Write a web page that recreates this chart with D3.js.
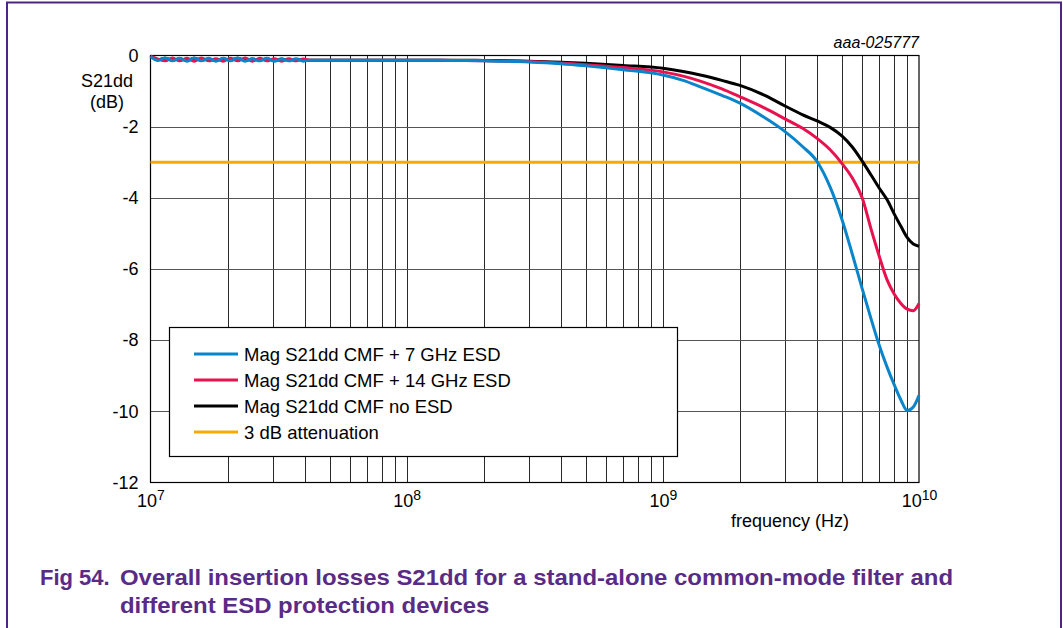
<!DOCTYPE html>
<html>
<head>
<meta charset="utf-8">
<script src="https://cdn.jsdelivr.net/npm/d3@7"></script>
<style>
  html, body { margin: 0; padding: 0; background: #fff; }
  svg { display: block; }
  text { font-family: "Liberation Sans", Arial, sans-serif; fill: #000; }
</style>
</head>
<body>
<svg id="chart" width="1063" height="628"></svg>
<script>
// Frequency sweep (Hz): fine steps in the noisy low band, coarser above 50 MHz
const freqHz = [
  1.0e7, 1.07e7, 1.14e7, 1.22e7, 1.3e7, 1.39e7, 1.48e7, 1.58e7, 1.69e7, 1.8e7,
  1.92e7, 2.05e7, 2.19e7, 2.34e7, 2.5e7, 2.67e7, 2.85e7, 3.04e7, 3.25e7, 3.47e7,
  3.7e7, 3.95e7, 4.2e7,
  5e7, 7e7, 1e8, 1.5e8, 2e8, 3e8, 4e8, 5e8, 7e8, 1e9,
  1.2e9, 1.4e9, 1.7e9, 2e9, 2.5e9, 3e9, 3.5e9, 4e9, 4.5e9, 5e9,
  5.5e9, 6e9, 6.5e9, 7e9, 7.5e9, 8e9, 8.5e9, 9e9, 9.5e9, 1e10
];

// Mag S21dd (dB), CMF + 7 GHz ESD
const esd7Db = [
  -0.03, -0.14, -0.07, -0.15, -0.08, -0.16, -0.07, -0.15, -0.08, -0.16,
  -0.08, -0.15, -0.07, -0.16, -0.09, -0.15, -0.08, -0.16, -0.10, -0.15,
  -0.09, -0.16, -0.13,
  -0.13, -0.13, -0.13, -0.14, -0.15, -0.18, -0.23, -0.29, -0.40, -0.55,
  -0.70, -0.88, -1.12, -1.34, -1.75, -2.14, -2.55, -2.98, -3.70, -4.60,
  -5.60, -6.55, -7.40, -8.15, -8.75, -9.25, -9.68, -9.98, -9.88, -9.55
];

// Mag S21dd (dB), CMF + 14 GHz ESD
const esd14Db = [
  -0.02, -0.10, -0.15, -0.07, -0.15, -0.08, -0.16, -0.07, -0.15, -0.09,
  -0.16, -0.08, -0.15, -0.07, -0.16, -0.08, -0.15, -0.09, -0.16, -0.09,
  -0.15, -0.10, -0.13,
  -0.13, -0.13, -0.13, -0.14, -0.15, -0.17, -0.21, -0.26, -0.34, -0.46,
  -0.58, -0.72, -0.94, -1.16, -1.48, -1.78, -2.04, -2.33, -2.65, -3.03,
  -3.45, -4.00, -4.88, -5.65, -6.30, -6.70, -6.97, -7.13, -7.17, -6.97
];

// Mag S21dd (dB), CMF without ESD
const noEsdDb = [
  -0.01, -0.12, -0.08, -0.13, -0.09, -0.14, -0.08, -0.13, -0.10, -0.14,
  -0.09, -0.13, -0.08, -0.14, -0.10, -0.13, -0.09, -0.14, -0.10, -0.13,
  -0.11, -0.13, -0.13,
  -0.13, -0.13, -0.13, -0.13, -0.14, -0.16, -0.19, -0.22, -0.28, -0.36,
  -0.45, -0.55, -0.70, -0.84, -1.12, -1.42, -1.66, -1.84, -2.02, -2.26,
  -2.58, -2.97, -3.36, -3.73, -4.05, -4.45, -4.80, -5.12, -5.30, -5.36
];

const attenuationDb = -3;

const seriesNames = [
  "Mag S21dd CMF + 7 GHz ESD",
  "Mag S21dd CMF + 14 GHz ESD",
  "Mag S21dd CMF no ESD",
  "3 dB attenuation"
];
const seriesColors = ["#0a85c9", "#e8124f", "#000000", "#f6ab00"];

const yTicks = [0, -2, -4, -6, -8, -10, -12];
const xDecades = [1e7, 1e8, 1e9, 1e10];
const xExponents = ["7", "8", "9", "10"];

const captionNumber = "Fig 54.";
const captionLines = [
  "Overall insertion losses S21dd for a stand-alone common-mode filter and",
  "different ESD protection devices"
];
const figureCode = "aaa-025777";

// ---- layout ----
const svg = d3.select("#chart");
const plot = { left: 150.5, right: 919, top: 55.5, bottom: 482.5 };

const x = d3.scaleLog().domain([1e7, 1e10]).range([plot.left, plot.right]);
const y = d3.scaleLinear().domain([-12, 0]).range([plot.bottom, plot.top]);

// outer figure frame
svg.append("path")
  .attr("d", "M7,628 V2.5 H1061 V628")
  .attr("fill", "none")
  .attr("stroke", "#4e2682")
  .attr("stroke-width", 2);

// ---- grid ----
const grid = svg.append("g");
const minorTicks = x.ticks(30).filter(v => v > 1e7 && v < 1e10);
grid.selectAll("line.v")
  .data(minorTicks)
  .join("line")
  .attr("x1", d => Math.round(x(d)) + 0.5)
  .attr("x2", d => Math.round(x(d)) + 0.5)
  .attr("y1", plot.top)
  .attr("y2", plot.bottom)
  .attr("stroke", "#2a2a2a")
  .attr("stroke-width", 1);

grid.selectAll("line.h")
  .data(yTicks.filter(v => v !== 0 && v !== -12))
  .join("line")
  .attr("x1", plot.left)
  .attr("x2", plot.right)
  .attr("y1", d => Math.round(y(d)) + 0.5)
  .attr("y2", d => Math.round(y(d)) + 0.5)
  .attr("stroke", "#555")
  .attr("stroke-width", 1);

// plot border
svg.append("rect")
  .attr("x", plot.left)
  .attr("y", plot.top)
  .attr("width", plot.right - plot.left)
  .attr("height", plot.bottom - plot.top)
  .attr("fill", "none")
  .attr("stroke", "#000")
  .attr("stroke-width", 1.2);

// ---- axes labels ----
const yAxis = d3.axisLeft(y).tickValues(yTicks).tickSize(0).tickPadding(12)
  .tickFormat(d => String(d));
const gy = svg.append("g")
  .attr("transform", `translate(${plot.left},0)`)
  .call(yAxis);
gy.select(".domain").remove();
gy.selectAll("text")
  .style("font-family", "'Liberation Sans', Arial, sans-serif")
  .style("font-size", "18px")
  .attr("fill", "#000");

const xAxis = d3.axisBottom(x).tickValues(xDecades).tickSize(0).tickPadding(0)
  .tickFormat(() => "");
const gx = svg.append("g")
  .attr("transform", `translate(0,${plot.bottom})`)
  .call(xAxis);
gx.select(".domain").remove();
gx.selectAll(".tick").each(function(d, i) {
  const t = d3.select(this).select("text")
    .attr("y", 24)
    .attr("dy", null)
    .attr("text-anchor", "middle")
    .style("font-family", "'Liberation Sans', Arial, sans-serif")
    .style("font-size", "18px")
    .attr("fill", "#000");
  t.append("tspan").text("10");
  t.append("tspan").attr("dy", -7).style("font-size", "14px").text(xExponents[i]);
});

svg.append("text")
  .attr("x", 790).attr("y", 527)
  .attr("text-anchor", "middle")
  .style("font-size", "18px")
  .text("frequency (Hz)");

svg.append("text")
  .attr("x", 107).attr("y", 87)
  .attr("text-anchor", "middle")
  .style("font-size", "18px")
  .text("S21dd");
svg.append("text")
  .attr("x", 107).attr("y", 108)
  .attr("text-anchor", "middle")
  .style("font-size", "18px")
  .text("(dB)");

svg.append("text")
  .attr("x", 919).attr("y", 48)
  .attr("text-anchor", "end")
  .style("font-size", "16px")
  .style("font-style", "italic")
  .text(figureCode);

// ---- data lines ----
const curves = [esd7Db, esd14Db, noEsdDb];
const line = d3.line()
  .x((d, i) => x(freqHz[i]))
  .y(d => y(d))
  .curve(d3.curveMonotoneX);

const lines = svg.append("g");
// 3 dB reference
lines.append("line")
  .attr("x1", x(1e7)).attr("x2", x(1e10))
  .attr("y1", y(attenuationDb)).attr("y2", y(attenuationDb))
  .attr("stroke", seriesColors[3])
  .attr("stroke-width", 3);

// draw no-ESD first, then 14 GHz, then 7 GHz on top
[2, 1, 0].forEach(k => {
  lines.append("path")
    .datum(curves[k])
    .attr("d", line)
    .attr("fill", "none")
    .attr("stroke", seriesColors[k])
    .attr("stroke-width", 3)
    .attr("stroke-linejoin", "round");
});

// ---- legend ----
const legend = svg.append("g");
legend.append("rect")
  .attr("x", 169.5).attr("y", 327.5)
  .attr("width", 508).attr("height", 129)
  .attr("fill", "#fff")
  .attr("stroke", "#000")
  .attr("stroke-width", 1.2);
seriesNames.forEach((name, i) => {
  const cy = 354 + i * 26;
  legend.append("line")
    .attr("x1", 194).attr("x2", 238)
    .attr("y1", cy).attr("y2", cy)
    .attr("stroke", seriesColors[i])
    .attr("stroke-width", 3);
  legend.append("text")
    .attr("x", 244).attr("y", cy + 6.5)
    .style("font-size", "18.5px")
    .text(name);
});

// ---- caption ----
const capColor = "#5a2b86";
const cap = svg.append("g")
  .style("font-weight", "bold")
  .style("font-size", "22px");
cap.append("text")
  .attr("x", 40).attr("y", 585)
  .style("fill", capColor)
  .text(captionNumber);
const capLines = captionLines.map((t, i) =>
  cap.append("text")
    .attr("x", 120).attr("y", 585 + i * 28)
    .style("fill", capColor)
    .text(t));
// widen the caption lines slightly so the first line ends at x = 953
const stretch = 833 / capLines[0].node().getComputedTextLength();
capLines.forEach(t => {
  const w = t.node().getComputedTextLength();
  t.attr("textLength", w * stretch).attr("lengthAdjust", "spacingAndGlyphs");
});
</script>
</body>
</html>
